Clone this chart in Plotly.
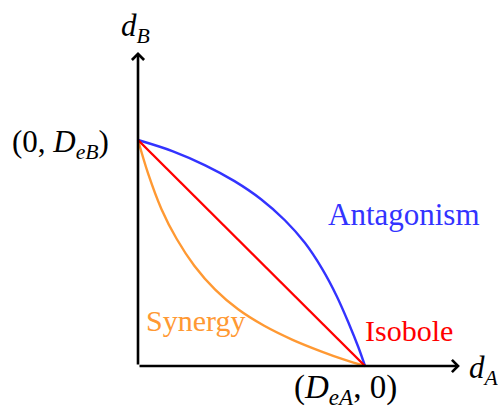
import plotly.graph_objects as go

# Isobologram: effect-equivalent dose combinations of drugs A and B,
# with both single-drug doses scaled to 1 (D_eA = D_eB = 1).
isobole_x = [0.0, 1.0]
isobole_y = [1.0, 0.0]

antagonism_x = [0.0, 0.154, 0.296, 0.425, 0.542, 0.647, 0.735, 0.810, 0.875, 0.930, 0.970, 1.0]
antagonism_y = [1.0, 0.950, 0.888, 0.818, 0.738, 0.645, 0.545, 0.432, 0.310, 0.185, 0.085, 0.0]

synergy_x = [0.0, 0.045, 0.103, 0.170, 0.248, 0.340, 0.441, 0.556, 0.681, 0.809, 0.912, 1.0]
synergy_y = [1.0, 0.850, 0.695, 0.563, 0.444, 0.338, 0.251, 0.178, 0.116, 0.064, 0.027, 0.0]

axis_end_x = 1.418
axis_end_y = 1.389

W, H = 498, 410
FONT = "serif"
BLUE = "#3333ff"
RED = "#ff0000"
ORANGE = "#ff9933"


def px(x):
    return x / W


def py(y):
    return 1 - y / H


fig = go.Figure()

for xs, ys, col in [
    (synergy_x, synergy_y, ORANGE),
    (antagonism_x, antagonism_y, BLUE),
    (isobole_x, isobole_y, RED),
]:
    fig.add_trace(go.Scatter(
        x=xs, y=ys, mode="lines",
        line=dict(color=col, width=2.4, shape="spline", smoothing=1.0),
        hoverinfo="skip", showlegend=False,
    ))

annotations = []
# Axes with open arrowheads
for tx, ty in [(axis_end_x, 0.0), (0.0, axis_end_y)]:
    annotations.append(dict(
        x=tx, y=ty, ax=0.0, ay=0.0, xref="x", yref="y", axref="x", ayref="y",
        text="", showarrow=True, arrowhead=4, arrowsize=0.9, arrowwidth=2.6,
        arrowcolor="black", standoff=0, startstandoff=0,
    ))


def label(text, x, y, color="black", size=30, xanchor="center"):
    annotations.append(dict(
        x=px(x), y=py(y), xref="paper", yref="paper", text=text,
        showarrow=False, xanchor=xanchor, yanchor="middle",
        font=dict(family=FONT, size=size, color=color),
    ))


label("<i>d</i><sub><i>B</i></sub>", 135, 28, size=31)
label("<i>d</i><sub><i>A</i></sub>", 467, 370, size=31, xanchor="left")
label("(0, <i>D</i><sub><i>eB</i></sub>)", 111, 144, size=31, xanchor="right")
label("(<i>D</i><sub><i>eA</i></sub>, 0)", 345, 389, size=33)
label("Antagonism", 403.5, 214, color=BLUE, size=31)
label("Isobole", 409, 330, color=RED)
label("Synergy", 195, 320, color=ORANGE)

X0, Y0, S = 138, 366, 227
fig.update_layout(
    width=W, height=H,
    margin=dict(l=0, r=0, t=0, b=0),
    paper_bgcolor="white", plot_bgcolor="white",
    xaxis=dict(range=[-X0 / S, (W - X0) / S], visible=False, fixedrange=True),
    yaxis=dict(range=[-(H - Y0) / 226, Y0 / 226], visible=False, fixedrange=True),
    annotations=annotations,
    showlegend=False,
)

fig.write_html("out.html")
